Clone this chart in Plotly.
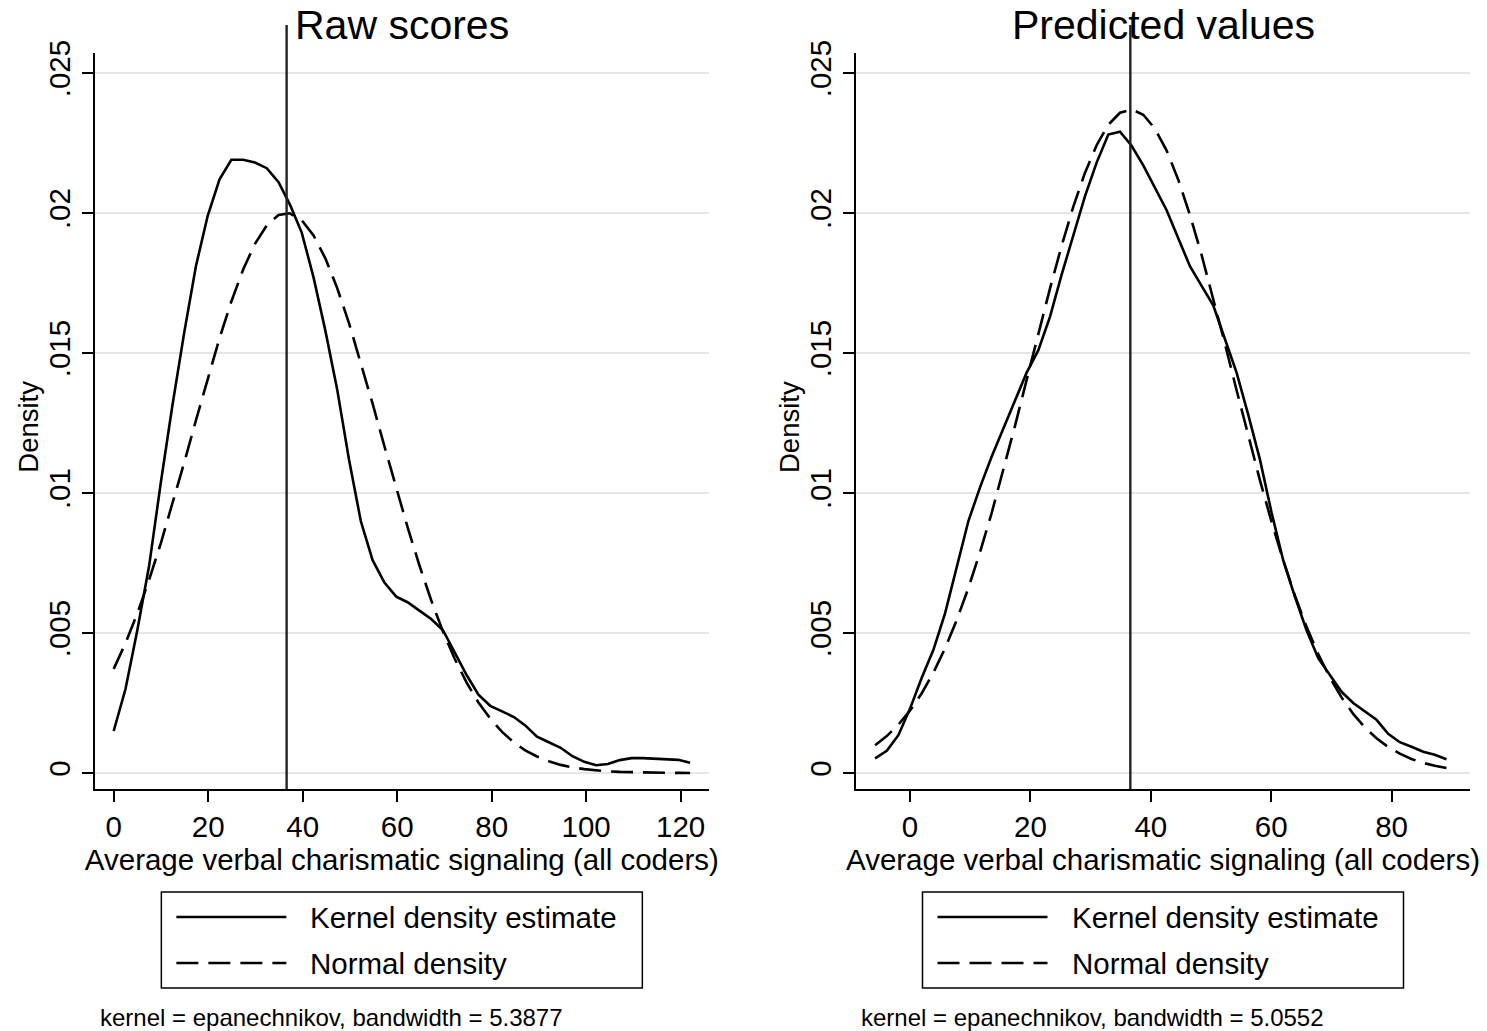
import plotly.graph_objects as go

# ---------------- data ----------------
raw_x = [0.0, 2.5, 5.0, 7.5, 10.0, 12.4, 14.9, 17.4, 19.9, 22.4, 24.9, 27.4, 29.9, 32.4, 34.9,
         37.3, 39.8, 42.3, 44.8, 47.3, 49.8, 52.3, 54.8, 57.3, 59.8, 62.2, 64.7, 67.2, 69.7, 72.2,
         74.7, 77.2, 79.7, 82.2, 84.7, 87.1, 89.6, 92.1, 94.6, 97.1, 99.6, 102.1, 104.6, 107.1,
         109.6, 112.0, 114.5, 117.0, 119.5, 122.0]
raw_kde = [0.0015, 0.0030, 0.0051, 0.0074, 0.0104, 0.0131, 0.0157, 0.0181, 0.0199, 0.0212,
           0.0219, 0.0219, 0.0218, 0.0216, 0.0211, 0.0203, 0.0193, 0.0177, 0.0158, 0.0137,
           0.0112, 0.0090, 0.0076, 0.0068, 0.0063, 0.0061, 0.0058, 0.0055, 0.0051, 0.0043,
           0.0035, 0.0028, 0.0024, 0.0022, 0.0020, 0.0017, 0.0013, 0.0011, 0.0009, 0.0006,
           0.0004, 0.00028, 0.00032, 0.00046, 0.00053, 0.00053, 0.00051, 0.00051, 0.00047, 0.00037]
raw_normal = [0.00372, 0.00464, 0.00570, 0.00690, 0.00822, 0.00958, 0.01107, 0.01259, 0.01409,
              0.01553, 0.01684, 0.01798, 0.01890, 0.01956, 0.01993, 0.01999, 0.01974, 0.01920,
              0.01838, 0.01732, 0.01607, 0.01467, 0.01319, 0.01167, 0.01017, 0.00878, 0.00742,
              0.00617, 0.00505, 0.00407, 0.00323, 0.00252, 0.00194, 0.00147, 0.00109, 0.00081,
              0.00059, 0.00042, 0.00029, 0.00020, 0.00014, 0.00009, 0.00006, 0.00004, 0.000025,
              0.000016, 0.00001, 0.000006, 0.000004, 0.000002]

pred_x = [-5.80, -3.86, -1.93, 0.01, 1.95, 3.89, 5.82, 7.76, 9.70, 11.63, 13.57, 15.51, 17.44,
          19.38, 21.32, 23.26, 25.19, 27.13, 29.07, 31.00, 32.94, 34.88, 36.81, 38.75, 40.69,
          42.63, 44.56, 46.50, 48.44, 50.37, 52.31, 54.25, 56.18, 58.12, 60.06, 61.99, 63.93,
          65.87, 67.81, 69.74, 71.68, 73.62, 75.55, 77.49, 79.43, 81.36, 83.30, 85.24, 87.17, 89.11]
pred_kde = [0.00052, 0.00079, 0.00135, 0.0023, 0.0034, 0.0044, 0.0057, 0.0074, 0.0090, 0.0102,
            0.0113, 0.0123, 0.0133, 0.0143, 0.0151, 0.0163, 0.0178, 0.0192, 0.0206, 0.0218,
            0.0228, 0.0229, 0.0224, 0.0217, 0.0209, 0.0201, 0.0191, 0.0181, 0.0174, 0.0167,
            0.0155, 0.0143, 0.0128, 0.0112, 0.0093, 0.0076, 0.0063, 0.0051, 0.0041, 0.0035,
            0.0029, 0.0025, 0.0022, 0.0019, 0.0014, 0.0011, 0.00094, 0.00076, 0.00065, 0.00049]
pred_normal = [0.00099, 0.00132, 0.00173, 0.00223, 0.00285, 0.00359, 0.00445, 0.00546, 0.00661,
               0.00789, 0.00929, 0.01081, 0.01240, 0.01404, 0.01569, 0.01731, 0.01883, 0.02023,
               0.02144, 0.02242, 0.02315, 0.02358, 0.02370, 0.02351, 0.02301, 0.02223, 0.02119,
               0.01993, 0.01850, 0.01696, 0.01533, 0.01367, 0.01205, 0.01046, 0.00897, 0.00760,
               0.00634, 0.00522, 0.00425, 0.00341, 0.00270, 0.00211, 0.00163, 0.00124, 0.00093,
               0.00069, 0.00050, 0.00036, 0.00026, 0.00018]

raw_mean = 36.6
pred_mean = 36.6

raw_xticks = [0, 20, 40, 60, 80, 100, 120]
pred_xticks = [0, 20, 40, 60, 80]
y_ticks = [0, 0.005, 0.01, 0.015, 0.02, 0.025]
y_ticklabels = ["0", ".005", ".01", ".015", ".02", ".025"]

panel_titles = ["Raw scores", "Predicted values"]
x_title = "Average verbal charismatic signaling (all coders)"
y_title = "Density"
legend_labels = ["Kernel density estimate", "Normal density"]
notes = ["kernel = epanechnikov, bandwidth = 5.3877",
         "kernel = epanechnikov, bandwidth = 5.0552"]

# ---------------- styling ----------------
W, H = 1487, 1031
FONT = "Liberation Sans, Arial, sans-serif"
LW = 2.6
DASH = "22px,10px"
TICK_SIZE = 29.5


def fx(px):
    return px / W


def fy(py):
    return 1 - py / H


fig = go.Figure()

panels = [
    dict(xs=raw_x, kde=raw_kde, nrm=raw_normal, mean=raw_mean, ticks=raw_xticks,
         xa="x", ya="y", left=94.7, right=709.0, xrange=[-4.02, 126.0]),
    dict(xs=pred_x, kde=pred_kde, nrm=pred_normal, mean=pred_mean, ticks=pred_xticks,
         xa="x2", ya="y2", left=856.0, right=1470.0, xrange=[-8.97, 93.02]),
]

y_range = [-0.000571, 0.025714]
ydom = [fy(789), fy(53)]

shapes = []
annotations = []

for i, p in enumerate(panels):
    fig.add_trace(go.Scatter(x=p["xs"], y=p["kde"], mode="lines", xaxis=p["xa"], yaxis=p["ya"],
                             line=dict(color="black", width=LW), showlegend=False,
                             name=legend_labels[0]))
    fig.add_trace(go.Scatter(x=p["xs"], y=p["nrm"], mode="lines", xaxis=p["xa"], yaxis=p["ya"],
                             line=dict(color="black", width=LW, dash=DASH), showlegend=False,
                             name=legend_labels[1]))

    # mean line
    shapes.append(dict(type="line", xref=p["xa"], yref="paper", x0=p["mean"], x1=p["mean"],
                       y0=fy(789), y1=fy(25), line=dict(color="#222222", width=2.4), layer="above"))

    cx = (p["left"] + p["right"]) / 2
    annotations.append(dict(text=panel_titles[i], xref="paper", yref="paper", x=fx(cx),
                            y=fy(25), xanchor="center", yanchor="middle", showarrow=False,
                            font=dict(family=FONT, size=41, color="black")))
    # y-axis title
    annotations.append(dict(text=y_title, xref="paper", yref="paper", x=fx(p["left"] - 67),
                            y=fy(427), xanchor="center", yanchor="middle", showarrow=False,
                            textangle=-90, font=dict(family=FONT, size=27.5, color="black")))

    # legend box
    bl = cx - 240.5
    shapes.append(dict(type="rect", xref="paper", yref="paper", x0=fx(bl), x1=fx(bl + 481),
                       y0=fy(988), y1=fy(892), line=dict(color="black", width=1.5),
                       fillcolor="white"))
    shapes.append(dict(type="line", xref="paper", yref="paper", x0=fx(bl + 15), x1=fx(bl + 125),
                       y0=fy(917), y1=fy(917), line=dict(color="black", width=LW)))
    shapes.append(dict(type="line", xref="paper", yref="paper", x0=fx(bl + 15), x1=fx(bl + 125),
                       y0=fy(963), y1=fy(963), line=dict(color="black", width=LW, dash=DASH)))
    for lab, yy in zip(legend_labels, [917, 963]):
        annotations.append(dict(text=lab, xref="paper", yref="paper", x=fx(bl + 147), y=fy(yy),
                                xanchor="left", yanchor="middle", showarrow=False,
                                font=dict(family=FONT, size=29.5, color="black")))
    annotations.append(dict(text=notes[i], xref="paper", yref="paper", x=fx(p["left"] + 3),
                            y=fy(1017), xanchor="left", yanchor="middle", showarrow=False,
                            font=dict(family=FONT, size=24, color="black")))

axis_common = dict(showline=True, linecolor="black", linewidth=2, ticks="outside", ticklen=11,
                   tickwidth=2, tickcolor="black", zeroline=False, mirror=False, automargin=False,
                   tickfont=dict(family=FONT, size=TICK_SIZE, color="black"))

layout_axes = {}
for i, p in enumerate(panels):
    xk = "xaxis" if i == 0 else "xaxis2"
    yk = "yaxis" if i == 0 else "yaxis2"
    layout_axes[xk] = dict(axis_common, domain=[fx(p["left"]), fx(p["right"])], range=p["xrange"],
                           tickvals=p["ticks"], showgrid=False, anchor=p["ya"],
                           title=dict(text=x_title, standoff=0,
                                      font=dict(family=FONT, size=TICK_SIZE, color="black")))
    layout_axes[yk] = dict(axis_common, domain=ydom, range=y_range, tickvals=y_ticks,
                           ticktext=y_ticklabels, tickangle=-90, showgrid=True,
                           gridcolor="#e6e6e6", gridwidth=2, anchor=p["xa"])

fig.update_layout(width=W, height=H, margin=dict(l=0, r=0, t=0, b=0, autoexpand=False),
                  paper_bgcolor="white", plot_bgcolor="white", showlegend=False,
                  shapes=shapes, annotations=annotations, **layout_axes)

fig.write_html("out.html")
